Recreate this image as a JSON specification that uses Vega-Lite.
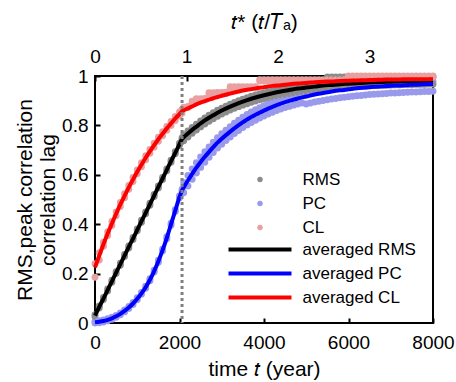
{
"$schema": "https://vega.github.io/schema/vega-lite/v6.json",
"width": 338, "height": 247,
"autosize": "none",
"padding": {"left": 95, "top": 76, "right": 23, "bottom": 59},
"config": {
  "font": "Liberation Sans",
  "view": {"stroke": "black", "strokeWidth": 2},
  "axis": {"grid": false, "domain": false, "ticks": true, "tickSize": -5, "tickWidth": 2, "tickColor": "black", "labelFontSize": 19, "labelColor": "black", "titleFontSize": 21, "titleFontWeight": "normal", "titleColor": "black", "labelFlush": false, "labelOverlap": false},
  "legend": {"labelFontSize": 17, "labelColor": "black", "padding": 0, "rowPadding": 6, "symbolOpacity": 1}
},
"datasets": {
"avg": [
{"t":0,"averaged RMS":0.030,"averaged PC":0.003,"averaged CL":0.225},
{"t":100,"averaged RMS":0.065,"averaged PC":0.005,"averaged CL":0.273},
{"t":200,"averaged RMS":0.099,"averaged PC":0.008,"averaged CL":0.319},
{"t":300,"averaged RMS":0.134,"averaged PC":0.013,"averaged CL":0.362},
{"t":400,"averaged RMS":0.169,"averaged PC":0.019,"averaged CL":0.403},
{"t":500,"averaged RMS":0.204,"averaged PC":0.027,"averaged CL":0.442},
{"t":600,"averaged RMS":0.238,"averaged PC":0.037,"averaged CL":0.480},
{"t":700,"averaged RMS":0.273,"averaged PC":0.049,"averaged CL":0.515},
{"t":800,"averaged RMS":0.308,"averaged PC":0.063,"averaged CL":0.549},
{"t":900,"averaged RMS":0.342,"averaged PC":0.079,"averaged CL":0.581},
{"t":1000,"averaged RMS":0.377,"averaged PC":0.098,"averaged CL":0.612},
{"t":1100,"averaged RMS":0.412,"averaged PC":0.120,"averaged CL":0.641},
{"t":1200,"averaged RMS":0.446,"averaged PC":0.145,"averaged CL":0.669},
{"t":1300,"averaged RMS":0.481,"averaged PC":0.175,"averaged CL":0.695},
{"t":1400,"averaged RMS":0.516,"averaged PC":0.210,"averaged CL":0.720},
{"t":1500,"averaged RMS":0.551,"averaged PC":0.250,"averaged CL":0.744},
{"t":1600,"averaged RMS":0.585,"averaged PC":0.295,"averaged CL":0.766},
{"t":1700,"averaged RMS":0.620,"averaged PC":0.345,"averaged CL":0.788},
{"t":1800,"averaged RMS":0.655,"averaged PC":0.400,"averaged CL":0.808},
{"t":1900,"averaged RMS":0.689,"averaged PC":0.455,"averaged CL":0.828},
{"t":2000,"averaged RMS":0.724,"averaged PC":0.510,"averaged CL":0.846},
{"t":2060,"averaged RMS":0.745,"averaged PC":0.537,"averaged CL":0.857},
{"t":2100,"averaged RMS":0.752,"averaged PC":0.549,"averaged CL":0.861},
{"t":2200,"averaged RMS":0.767,"averaged PC":0.577,"averaged CL":0.869},
{"t":2300,"averaged RMS":0.782,"averaged PC":0.604,"averaged CL":0.877},
{"t":2400,"averaged RMS":0.795,"averaged PC":0.629,"averaged CL":0.885},
{"t":2500,"averaged RMS":0.808,"averaged PC":0.652,"averaged CL":0.892},
{"t":2600,"averaged RMS":0.820,"averaged PC":0.673,"averaged CL":0.898},
{"t":2700,"averaged RMS":0.831,"averaged PC":0.693,"averaged CL":0.904},
{"t":2800,"averaged RMS":0.841,"averaged PC":0.712,"averaged CL":0.910},
{"t":2900,"averaged RMS":0.851,"averaged PC":0.730,"averaged CL":0.915},
{"t":3000,"averaged RMS":0.860,"averaged PC":0.746,"averaged CL":0.920},
{"t":3200,"averaged RMS":0.876,"averaged PC":0.775,"averaged CL":0.929},
{"t":3400,"averaged RMS":0.890,"averaged PC":0.801,"averaged CL":0.937},
{"t":3600,"averaged RMS":0.902,"averaged PC":0.824,"averaged CL":0.944},
{"t":3800,"averaged RMS":0.913,"averaged PC":0.843,"averaged CL":0.950},
{"t":4000,"averaged RMS":0.922,"averaged PC":0.860,"averaged CL":0.955},
{"t":4200,"averaged RMS":0.930,"averaged PC":0.875,"averaged CL":0.960},
{"t":4400,"averaged RMS":0.937,"averaged PC":0.888,"averaged CL":0.963},
{"t":4600,"averaged RMS":0.943,"averaged PC":0.899,"averaged CL":0.967},
{"t":4800,"averaged RMS":0.949,"averaged PC":0.909,"averaged CL":0.970},
{"t":5000,"averaged RMS":0.953,"averaged PC":0.917,"averaged CL":0.972},
{"t":5200,"averaged RMS":0.957,"averaged PC":0.925,"averaged CL":0.975},
{"t":5400,"averaged RMS":0.961,"averaged PC":0.931,"averaged CL":0.977},
{"t":5600,"averaged RMS":0.964,"averaged PC":0.937,"averaged CL":0.978},
{"t":5800,"averaged RMS":0.967,"averaged PC":0.942,"averaged CL":0.980},
{"t":6000,"averaged RMS":0.969,"averaged PC":0.946,"averaged CL":0.981},
{"t":6200,"averaged RMS":0.971,"averaged PC":0.950,"averaged CL":0.982},
{"t":6400,"averaged RMS":0.973,"averaged PC":0.953,"averaged CL":0.983},
{"t":6600,"averaged RMS":0.975,"averaged PC":0.956,"averaged CL":0.984},
{"t":6800,"averaged RMS":0.976,"averaged PC":0.958,"averaged CL":0.985},
{"t":7000,"averaged RMS":0.977,"averaged PC":0.961,"averaged CL":0.986},
{"t":7200,"averaged RMS":0.978,"averaged PC":0.962,"averaged CL":0.986},
{"t":7400,"averaged RMS":0.979,"averaged PC":0.964,"averaged CL":0.987},
{"t":7600,"averaged RMS":0.980,"averaged PC":0.965,"averaged CL":0.987},
{"t":7800,"averaged RMS":0.980,"averaged PC":0.967,"averaged CL":0.987},
{"t":8000,"averaged RMS":0.981,"averaged PC":0.968,"averaged CL":0.988}
],
"dots": [
{"t":0,"RMS":0.034,"PC":0.006,"CL":0.240},{"t":0,"RMS":0.026,"PC":0.0,"CL":0.185},
{"t":100,"RMS":0.069,"PC":0.009,"CL":0.285},{"t":100,"RMS":0.061,"PC":0.001,"CL":0.255},
{"t":200,"RMS":0.103,"PC":0.012,"CL":0.327},{"t":200,"RMS":0.095,"PC":0.004,"CL":0.311},
{"t":300,"RMS":0.138,"PC":0.017,"CL":0.370},{"t":300,"RMS":0.130,"PC":0.009,"CL":0.354},
{"t":400,"RMS":0.173,"PC":0.023,"CL":0.411},{"t":400,"RMS":0.165,"PC":0.015,"CL":0.395},
{"t":500,"RMS":0.208,"PC":0.031,"CL":0.450},{"t":500,"RMS":0.200,"PC":0.023,"CL":0.434},
{"t":600,"RMS":0.242,"PC":0.041,"CL":0.488},{"t":600,"RMS":0.234,"PC":0.033,"CL":0.472},
{"t":700,"RMS":0.277,"PC":0.053,"CL":0.523},{"t":700,"RMS":0.269,"PC":0.045,"CL":0.507},
{"t":800,"RMS":0.312,"PC":0.067,"CL":0.557},{"t":800,"RMS":0.304,"PC":0.059,"CL":0.541},
{"t":900,"RMS":0.346,"PC":0.083,"CL":0.589},{"t":900,"RMS":0.338,"PC":0.075,"CL":0.573},
{"t":1000,"RMS":0.381,"PC":0.102,"CL":0.620},{"t":1000,"RMS":0.373,"PC":0.094,"CL":0.604},
{"t":1100,"RMS":0.416,"PC":0.124,"CL":0.649},{"t":1100,"RMS":0.408,"PC":0.116,"CL":0.633},
{"t":1200,"RMS":0.450,"PC":0.149,"CL":0.677},{"t":1200,"RMS":0.442,"PC":0.141,"CL":0.661},
{"t":1300,"RMS":0.485,"PC":0.179,"CL":0.703},{"t":1300,"RMS":0.477,"PC":0.171,"CL":0.687},
{"t":1400,"RMS":0.520,"PC":0.214,"CL":0.728},{"t":1400,"RMS":0.512,"PC":0.206,"CL":0.712},
{"t":1500,"RMS":0.555,"PC":0.254,"CL":0.752},{"t":1500,"RMS":0.547,"PC":0.246,"CL":0.736},
{"t":1600,"RMS":0.589,"PC":0.299,"CL":0.774},{"t":1600,"RMS":0.581,"PC":0.291,"CL":0.758},
{"t":1700,"RMS":0.624,"PC":0.349,"CL":0.796},{"t":1700,"RMS":0.616,"PC":0.341,"CL":0.780},
{"t":1800,"RMS":0.659,"PC":0.404,"CL":0.816},{"t":1800,"RMS":0.651,"PC":0.396,"CL":0.800},
{"t":1900,"RMS":0.693,"PC":0.459,"CL":0.836},{"t":1900,"RMS":0.685,"PC":0.451,"CL":0.820},
{"t":2000,"RMS":0.728,"PC":0.514,"CL":0.854},{"t":2000,"RMS":0.720,"PC":0.506,"CL":0.838},
{"t":2060,"RMS":0.749,"PC":0.541,"CL":0.865},{"t":2060,"RMS":0.741,"PC":0.533,"CL":0.849},
{"t":2100,"RMS":0.762,"PC":0.569,"CL":0.874},{"t":2100,"RMS":0.738,"PC":0.527,"CL":0.869},
{"t":2200,"RMS":0.777,"PC":0.597,"CL":0.877},{"t":2200,"RMS":0.753,"PC":0.555,"CL":0.872},
{"t":2300,"RMS":0.792,"PC":0.624,"CL":0.898},{"t":2300,"RMS":0.768,"PC":0.582,"CL":0.892},
{"t":2400,"RMS":0.805,"PC":0.649,"CL":0.908},{"t":2400,"RMS":0.781,"PC":0.607,"CL":0.903},
{"t":2500,"RMS":0.818,"PC":0.672,"CL":0.908},{"t":2500,"RMS":0.794,"PC":0.630,"CL":0.903},
{"t":2600,"RMS":0.830,"PC":0.693,"CL":0.909},{"t":2600,"RMS":0.806,"PC":0.651,"CL":0.904},
{"t":2700,"RMS":0.841,"PC":0.713,"CL":0.932},{"t":2700,"RMS":0.817,"PC":0.671,"CL":0.927},
{"t":2800,"RMS":0.851,"PC":0.732,"CL":0.932},{"t":2800,"RMS":0.827,"PC":0.690,"CL":0.927},
{"t":2900,"RMS":0.861,"PC":0.750,"CL":0.933},{"t":2900,"RMS":0.837,"PC":0.708,"CL":0.928},
{"t":3000,"RMS":0.870,"PC":0.766,"CL":0.933},{"t":3000,"RMS":0.846,"PC":0.724,"CL":0.928},
{"t":3100,"RMS":0.878,"PC":0.781,"CL":0.934},{"t":3100,"RMS":0.854,"PC":0.739,"CL":0.929},
{"t":3200,"RMS":0.886,"PC":0.795,"CL":0.957},{"t":3200,"RMS":0.862,"PC":0.753,"CL":0.952},
{"t":3300,"RMS":0.893,"PC":0.809,"CL":0.957},{"t":3300,"RMS":0.869,"PC":0.767,"CL":0.952},
{"t":3400,"RMS":0.900,"PC":0.821,"CL":0.957},{"t":3400,"RMS":0.876,"PC":0.779,"CL":0.952},
{"t":3500,"RMS":0.906,"PC":0.833,"CL":0.957},{"t":3500,"RMS":0.882,"PC":0.791,"CL":0.952},
{"t":3600,"RMS":0.912,"PC":0.844,"CL":0.957},{"t":3600,"RMS":0.888,"PC":0.802,"CL":0.952},
{"t":3700,"RMS":0.918,"PC":0.854,"CL":0.957},{"t":3700,"RMS":0.894,"PC":0.812,"CL":0.952},
{"t":3800,"RMS":0.923,"PC":0.863,"CL":0.957},{"t":3800,"RMS":0.899,"PC":0.821,"CL":0.952},
{"t":3900,"RMS":0.928,"PC":0.872,"CL":0.985},{"t":3900,"RMS":0.904,"PC":0.830,"CL":0.980},
{"t":4000,"RMS":0.932,"PC":0.880,"CL":0.985},{"t":4000,"RMS":0.908,"PC":0.838,"CL":0.980},
{"t":4100,"RMS":0.936,"PC":0.888,"CL":0.985},{"t":4100,"RMS":0.912,"PC":0.846,"CL":0.980},
{"t":4200,"RMS":0.940,"PC":0.895,"CL":0.985},{"t":4200,"RMS":0.916,"PC":0.853,"CL":0.980},
{"t":4300,"RMS":0.944,"PC":0.902,"CL":0.985},{"t":4300,"RMS":0.920,"PC":0.860,"CL":0.980},
{"t":4400,"RMS":0.947,"PC":0.908,"CL":0.985},{"t":4400,"RMS":0.923,"PC":0.866,"CL":0.980},
{"t":4500,"RMS":0.950,"PC":0.914,"CL":0.985},{"t":4500,"RMS":0.926,"PC":0.872,"CL":0.980},
{"t":4600,"RMS":0.953,"PC":0.919,"CL":0.985},{"t":4600,"RMS":0.929,"PC":0.877,"CL":0.980},
{"t":4700,"RMS":0.956,"PC":0.924,"CL":0.985},{"t":4700,"RMS":0.932,"PC":0.882,"CL":0.980},
{"t":4800,"RMS":0.959,"PC":0.929,"CL":0.985},{"t":4800,"RMS":0.935,"PC":0.887,"CL":0.980},
{"t":4900,"RMS":0.961,"PC":0.933,"CL":0.985},{"t":4900,"RMS":0.937,"PC":0.891,"CL":0.980},
{"t":5000,"RMS":0.963,"PC":0.927,"CL":0.985},{"t":5000,"RMS":0.939,"PC":0.887,"CL":0.980},
{"t":5100,"RMS":0.965,"PC":0.931,"CL":0.985},{"t":5100,"RMS":0.941,"PC":0.891,"CL":0.980},
{"t":5200,"RMS":0.967,"PC":0.935,"CL":0.985},{"t":5200,"RMS":0.943,"PC":0.895,"CL":0.980},
{"t":5300,"RMS":0.969,"PC":0.938,"CL":0.985},{"t":5300,"RMS":0.945,"PC":0.898,"CL":0.980},
{"t":5400,"RMS":0.971,"PC":0.941,"CL":0.985},{"t":5400,"RMS":0.947,"PC":0.901,"CL":0.980},
{"t":5500,"RMS":0.996,"PC":0.944,"CL":0.985},{"t":5500,"RMS":0.949,"PC":0.904,"CL":0.980},
{"t":5600,"RMS":0.996,"PC":0.947,"CL":0.985},{"t":5600,"RMS":0.950,"PC":0.907,"CL":0.980},
{"t":5700,"RMS":0.996,"PC":0.949,"CL":0.985},{"t":5700,"RMS":0.951,"PC":0.909,"CL":0.980},
{"t":5800,"RMS":0.996,"PC":0.952,"CL":0.985},{"t":5800,"RMS":0.953,"PC":0.912,"CL":0.980},
{"t":5900,"RMS":0.996,"PC":0.954,"CL":0.985},{"t":5900,"RMS":0.954,"PC":0.914,"CL":0.980},
{"t":6000,"RMS":0.996,"PC":0.956,"CL":1.0},{"t":6000,"RMS":0.955,"PC":0.916,"CL":0.997},
{"t":6100,"RMS":0.996,"PC":0.958,"CL":1.0},{"t":6100,"RMS":0.956,"PC":0.918,"CL":0.997},
{"t":6200,"RMS":0.996,"PC":0.960,"CL":1.0},{"t":6200,"RMS":0.957,"PC":0.920,"CL":0.997},
{"t":6300,"RMS":0.996,"PC":0.961,"CL":1.0},{"t":6300,"RMS":0.958,"PC":0.921,"CL":0.997},
{"t":6400,"RMS":0.996,"PC":0.963,"CL":1.0},{"t":6400,"RMS":0.959,"PC":0.923,"CL":0.997},
{"t":6500,"RMS":0.996,"PC":0.965,"CL":1.0},{"t":6500,"RMS":0.960,"PC":0.925,"CL":0.997},
{"t":6600,"RMS":0.996,"PC":0.966,"CL":1.0},{"t":6600,"RMS":0.961,"PC":0.926,"CL":0.997},
{"t":6700,"RMS":0.996,"PC":0.967,"CL":1.0},{"t":6700,"RMS":0.961,"PC":0.927,"CL":0.997},
{"t":6800,"RMS":0.996,"PC":0.968,"CL":1.0},{"t":6800,"RMS":0.962,"PC":0.928,"CL":0.997},
{"t":6900,"RMS":0.996,"PC":0.969,"CL":1.0},{"t":6900,"RMS":0.962,"PC":0.929,"CL":0.997},
{"t":7000,"RMS":0.996,"PC":0.971,"CL":1.0},{"t":7000,"RMS":0.963,"PC":0.931,"CL":0.997},
{"t":7100,"RMS":0.996,"PC":0.971,"CL":1.0},{"t":7100,"RMS":0.964,"PC":0.931,"CL":0.997},
{"t":7200,"RMS":0.996,"PC":0.972,"CL":1.0},{"t":7200,"RMS":0.964,"PC":0.932,"CL":0.997},
{"t":7300,"RMS":0.996,"PC":0.973,"CL":1.0},{"t":7300,"RMS":0.965,"PC":0.933,"CL":0.997},
{"t":7400,"RMS":0.996,"PC":0.974,"CL":1.0},{"t":7400,"RMS":0.965,"PC":0.934,"CL":0.997},
{"t":7500,"RMS":0.996,"PC":0.975,"CL":1.0},{"t":7500,"RMS":0.965,"PC":0.935,"CL":0.997},
{"t":7600,"RMS":0.996,"PC":0.975,"CL":1.0},{"t":7600,"RMS":0.966,"PC":0.935,"CL":0.997},
{"t":7700,"RMS":0.996,"PC":0.976,"CL":1.0},{"t":7700,"RMS":0.966,"PC":0.936,"CL":0.997},
{"t":7800,"RMS":0.996,"PC":0.977,"CL":1.0},{"t":7800,"RMS":0.966,"PC":0.937,"CL":0.997},
{"t":7900,"RMS":0.996,"PC":0.977,"CL":1.0},{"t":7900,"RMS":0.967,"PC":0.937,"CL":0.997},
{"t":8000,"RMS":0.996,"PC":0.978,"CL":1.0},{"t":8000,"RMS":0.967,"PC":0.938,"CL":0.997}
]
},
"layer": [
{
  "data": {"name": "dots"},
  "transform": [{"fold": ["RMS", "PC", "CL"], "as": ["s", "v"]}],
  "mark": {"type": "point", "filled": true, "size": 48, "opacity": 1},
  "encoding": {
    "x": {"field": "t", "type": "quantitative", "scale": {"domain": [0, 8000], "nice": false},
      "axis": {"orient": "bottom", "title": "time 𝑡 (year)", "values": [0, 2000, 4000, 6000, 8000], "format": "d", "labelPadding": 15, "titlePadding": 6}},
    "y": {"field": "v", "type": "quantitative", "scale": {"domain": [0, 1], "nice": false},
      "axis": {"title": ["RMS,peak correlation", "correlation lag"], "titleLineHeight": 23, "values": [0, 0.2, 0.4, 0.6, 0.8, 1], "format": "~g", "labelPadding": 12, "titlePadding": 3}},
    "fill": {"field": "s", "type": "nominal",
      "scale": {"domain": ["RMS", "PC", "CL"], "range": ["#8c8c8c", "#9a9aec", "#e8a0a0"]},
      "legend": {"orient": "none", "legendX": 156.5, "legendY": 95, "title": null, "symbolType": "circle", "symbolSize": 30, "labelOffset": 34}}
  }
},
{
  "data": {"name": "avg"},
  "transform": [{"fold": ["averaged RMS", "averaged PC", "averaged CL"], "as": ["s", "v"]}],
  "mark": {"type": "line", "strokeWidth": 4, "interpolate": "monotone"},
  "encoding": {
    "x": {"field": "t", "type": "quantitative", "axis": null},
    "y": {"field": "v", "type": "quantitative"},
    "stroke": {"field": "s", "type": "nominal",
      "scale": {"domain": ["averaged RMS", "averaged PC", "averaged CL"], "range": ["#000000", "#0000ff", "#ff0000"]},
      "legend": {"orient": "none", "legendX": 156.5, "legendY": 165, "title": null, "symbolType": "M-11.5,0H11.5", "symbolSize": 30, "symbolStrokeWidth": 4, "labelOffset": 34}}
  }
},
{
  "data": {"values": [{"t": 2060}]},
  "mark": {"type": "rule", "color": "#808080", "strokeWidth": 3, "strokeDash": [3, 3]},
  "encoding": {
    "x": {"field": "t", "type": "quantitative",
      "axis": {"orient": "top", "title": "𝑡* (𝑡/𝑇ₐ)", "values": [0, 2166, 4332, 6498], "labelExpr": "format(datum.value/2166, 'd')", "labelPadding": 15, "titlePadding": 15}}
  }
}
],
"resolve": {"axis": {"x": "independent"}}
}
